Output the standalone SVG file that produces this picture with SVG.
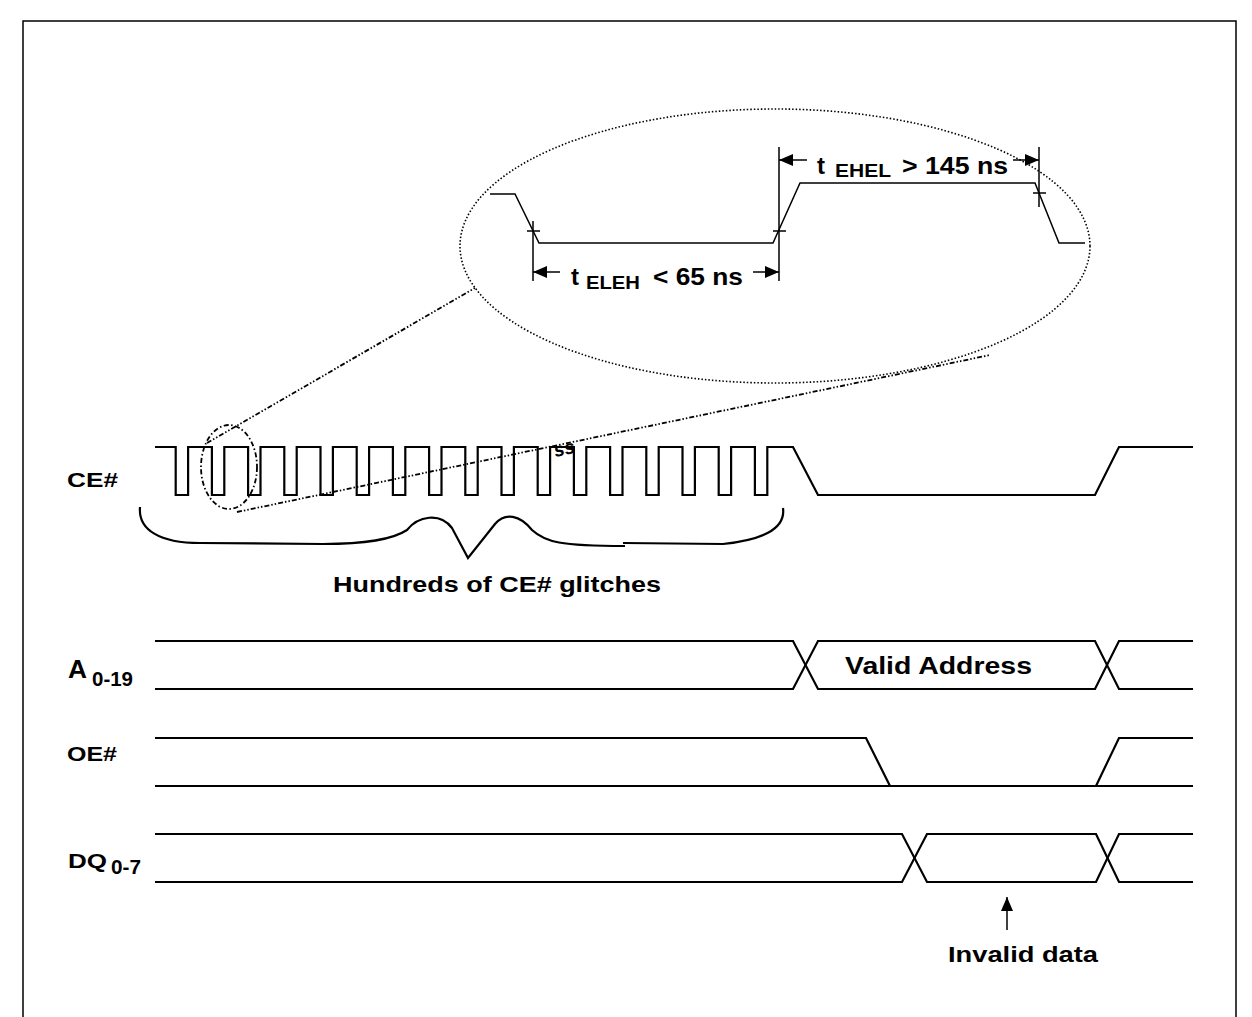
<svg xmlns="http://www.w3.org/2000/svg" width="1252" height="1017" viewBox="0 0 1252 1017">
<style>
.w{fill:none;stroke:#000;stroke-width:2.2;stroke-linejoin:miter}
.t{fill:none;stroke:#000;stroke-width:1.5}
.lbl{font-family:"Liberation Sans",Arial,sans-serif;font-weight:bold;fill:#000}
.dot{fill:none;stroke:#000;stroke-width:1.6;stroke-dasharray:1.5 2}
.dd{fill:none;stroke:#000;stroke-width:1.8;stroke-dasharray:5 2.5 1.5 2.5}
.ddd{fill:none;stroke:#000;stroke-width:1.8;stroke-dasharray:5 2 1.5 2 1.5 2}
</style>
<defs>
<marker id="ah" viewBox="0 0 14 12" refX="14" refY="6" markerWidth="14" markerHeight="12" markerUnits="userSpaceOnUse" orient="auto">
<path d="M0,0 L14,6 L0,12 Z" fill="#000"/>
</marker>
</defs>
<rect x="0" y="0" width="1252" height="1017" fill="#fff"/>
<path d="M23,1017 V21 H1236 V1017" fill="none" stroke="#000" stroke-width="1.5"/>

<g id="zoom-ellipse">
<ellipse cx="775" cy="246" rx="315" ry="137" class="dot"/>
<ellipse cx="229" cy="467" rx="28" ry="42" class="dd"/>
<path d="M237,512 L990,355" class="ddd"/>
<path d="M207,443 L475,288" class="ddd"/>
<text x="554" y="455" class="lbl" font-size="19" font-style="italic" transform="rotate(-12 564 450)">ss</text>
</g>

<g id="detail-waveform">
<path class="t" d="M490,194 H515 L539,243 H773 L800,183 H1035 L1059,243 H1085"/>
<path class="t" d="M527,231 H540 M773,231 H786 M1033,193 H1046"/>
<path class="t" d="M533,221 V281 M779,147 V281 M1039,147 V207"/>
</g>

<g id="connectors">
<path class="t" d="M560,272 H533" marker-end="url(#ah)"/>
<path class="t" d="M753,272 H779" marker-end="url(#ah)"/>
<path class="t" d="M807,160 H779" marker-end="url(#ah)"/>
<path class="t" d="M1013,160 H1039" marker-end="url(#ah)"/>
<path class="t" d="M1007,930 V897" marker-end="url(#ah)"/>
</g>

<g id="timing-labels">
<text class="lbl" x="571" y="285" font-size="24">t</text>
<text class="lbl" x="586" y="289" font-size="18" textLength="54" lengthAdjust="spacingAndGlyphs">ELEH</text>
<text class="lbl" x="653" y="285" font-size="24" textLength="90" lengthAdjust="spacingAndGlyphs">&lt; 65 ns</text>
<text class="lbl" x="817" y="174" font-size="24">t</text>
<text class="lbl" x="835" y="177" font-size="18" textLength="56" lengthAdjust="spacingAndGlyphs">EHEL</text>
<text class="lbl" x="902" y="174" font-size="24" textLength="106" lengthAdjust="spacingAndGlyphs">&gt; 145 ns</text>
</g>

<g id="ce">
<text class="lbl" x="67" y="487" font-size="21" textLength="51" lengthAdjust="spacingAndGlyphs">CE#</text>
<path class="w" d="M155,447 H175.7 V495 H188.1 V447 H211.9 V495 H224.3 V447 H248.1 V495 H260.5 V447 H284.3 V495 H296.7 V447 H320.5 V495 H332.9 V447 H356.7 V495 H369.1 V447 H392.9 V495 H405.3 V447 H429.1 V495 H441.5 V447 H465.3 V495 H477.7 V447 H501.5 V495 H513.9 V447 H537.7 V495 H550.1 V447 H573.9 V495 H586.3 V447 H610.1 V495 H622.5 V447 H646.3 V495 H658.7 V447 H682.5 V495 H694.9 V447 H718.7 V495 H731.1 V447 H754.9 V495 H767.3 V447 H793 L818,495 H1095 L1119,447 H1193"/>
</g>

<g id="glitch-brace">
<path class="w" d="M140,507 C138,530 160,543 200,543 L323,544 C370,544 395,538 407,530 C418,516 440,512 452,528 L468,558 L495,524 C505,512 520,515 532,530 C545,542 560,546 625,546"/>
<path class="w" d="M623,543 L723,544 C760,540 786,530 783,508"/>
<text class="lbl" x="333" y="592" font-size="22" textLength="328" lengthAdjust="spacingAndGlyphs">Hundreds of CE# glitches</text>
</g>

<g id="addr">
<text class="lbl" x="68" y="678" font-size="25" textLength="19" lengthAdjust="spacingAndGlyphs">A</text>
<text class="lbl" x="92" y="686" font-size="20" textLength="41" lengthAdjust="spacingAndGlyphs">0-19</text>
<path class="w" d="M155,641 H793 L818,689 H1095 L1119,641 H1193"/>
<path class="w" d="M155,689 H793 L818,641 H1095 L1119,689 H1193"/>
<text class="lbl" x="845" y="674" font-size="23" textLength="187" lengthAdjust="spacingAndGlyphs">Valid Address</text>
</g>

<g id="oe">
<text class="lbl" x="67" y="761" font-size="21" textLength="50" lengthAdjust="spacingAndGlyphs">OE#</text>
<path class="w" d="M155,738 H866 L890,786"/>
<path class="w" d="M155,786 H1193"/>
<path class="w" d="M1096,786 L1119,738 H1193"/>
</g>

<g id="dq">
<text class="lbl" x="68" y="868" font-size="21" textLength="39" lengthAdjust="spacingAndGlyphs">DQ</text>
<text class="lbl" x="111" y="874" font-size="20" textLength="30" lengthAdjust="spacingAndGlyphs">0-7</text>
<path class="w" d="M155,834 H902 L927,882 H1096 L1119,834 H1193"/>
<path class="w" d="M155,882 H902 L927,834 H1096 L1119,882 H1193"/>
<text class="lbl" x="948" y="962" font-size="22" textLength="150" lengthAdjust="spacingAndGlyphs">Invalid data</text>
</g>
</svg>
